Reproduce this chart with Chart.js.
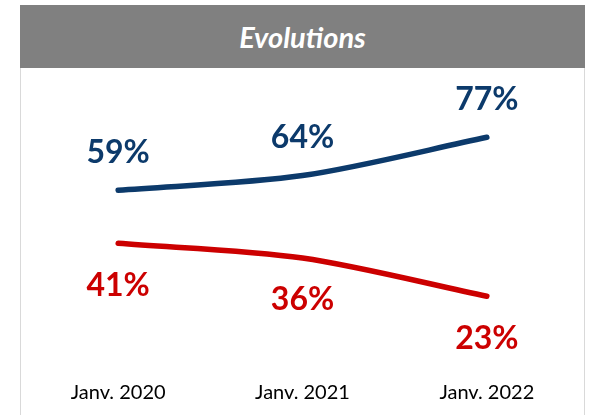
<!DOCTYPE html>
<html>
<head>
<meta charset="utf-8">
<script src="https://cdn.jsdelivr.net/npm/chart.js@4"></script>
<style>
  html, body { margin: 0; padding: 0; background: #fff; overflow: hidden; }
  #frame { position: absolute; left: 20px; top: 5px; width: 563px; height: 420px;
           border-left: 1px solid #d9d9d9; border-right: 1px solid #d9d9d9; border-top: 1px solid #d0d0d0; }
  #header { position: absolute; left: 20px; top: 5px; width: 565px; height: 63px; background: #808080;
            color: #fff; font: italic bold 29px Lato, sans-serif; text-align: center; line-height: 64px; }
  #wrap { position: absolute; left: 0; top: 0; width: 589px; height: 415px; }
</style>
</head>
<body>
<div id="frame"></div>
<div id="header">Evolutions</div>
<div id="wrap"><canvas id="lineChart"></canvas></div>
<script>
// Data
var periods = ['Janv. 2020', 'Janv. 2021', 'Janv. 2022'];
var blueValues = [59, 64, 77];
var redValues = [41, 36, 23];

// draws the big % labels above (blue) or below (red) each point
var pointLabels = {
    id: 'pointLabels',
    afterDatasetsDraw: function (chart) {
        var ctx = chart.ctx;
        ctx.save();
        ctx.font = 'bold 32px Lato, sans-serif';
        ctx.textAlign = 'center';
        ctx.textBaseline = 'middle';
        chart.data.datasets.forEach(function (ds, i) {
            var meta = chart.getDatasetMeta(i);
            ctx.fillStyle = ds.borderColor;
            meta.data.forEach(function (pt, j) {
                var dy = i === 0 ? -38 : 42;
                ctx.fillText(ds.data[j] + '%', pt.x, pt.y + dy);
            });
        });
        ctx.restore();
    }
};

var ctx = document.getElementById('lineChart').getContext('2d');
var lineChart = new Chart(ctx, {
    type: 'line',
    data: {
        labels: periods,
        datasets: [{
            data: blueValues,
            borderColor: '#0c3a6b',
            borderWidth: 5.5,
            tension: 0.3,
            pointRadius: 0,
            borderCapStyle: 'round'
        }, {
            data: redValues,
            borderColor: '#cc0000',
            borderWidth: 5.5,
            tension: 0.3,
            pointRadius: 0,
            borderCapStyle: 'round'
        }]
    },
    options: {
        responsive: true,
        maintainAspectRatio: false,
        animation: false,
        layout: { padding: { left: 26, right: 10, top: 69.6, bottom: 13 } },
        plugins: {
            legend: { display: false },
            tooltip: { enabled: false }
        },
        scales: {
            x: {
                offset: true,
                grid: { display: false, drawTicks: false },
                border: { display: false },
                ticks: { color: '#000', padding: 17, font: { family: 'Lato', size: 20 } },
                afterFit: function (scale) { scale.height = 38; }
            },
            y: {
                display: false,
                min: 0,
                max: 100
            }
        }
    },
    plugins: [pointLabels]
});
</script>
</body>
</html>
